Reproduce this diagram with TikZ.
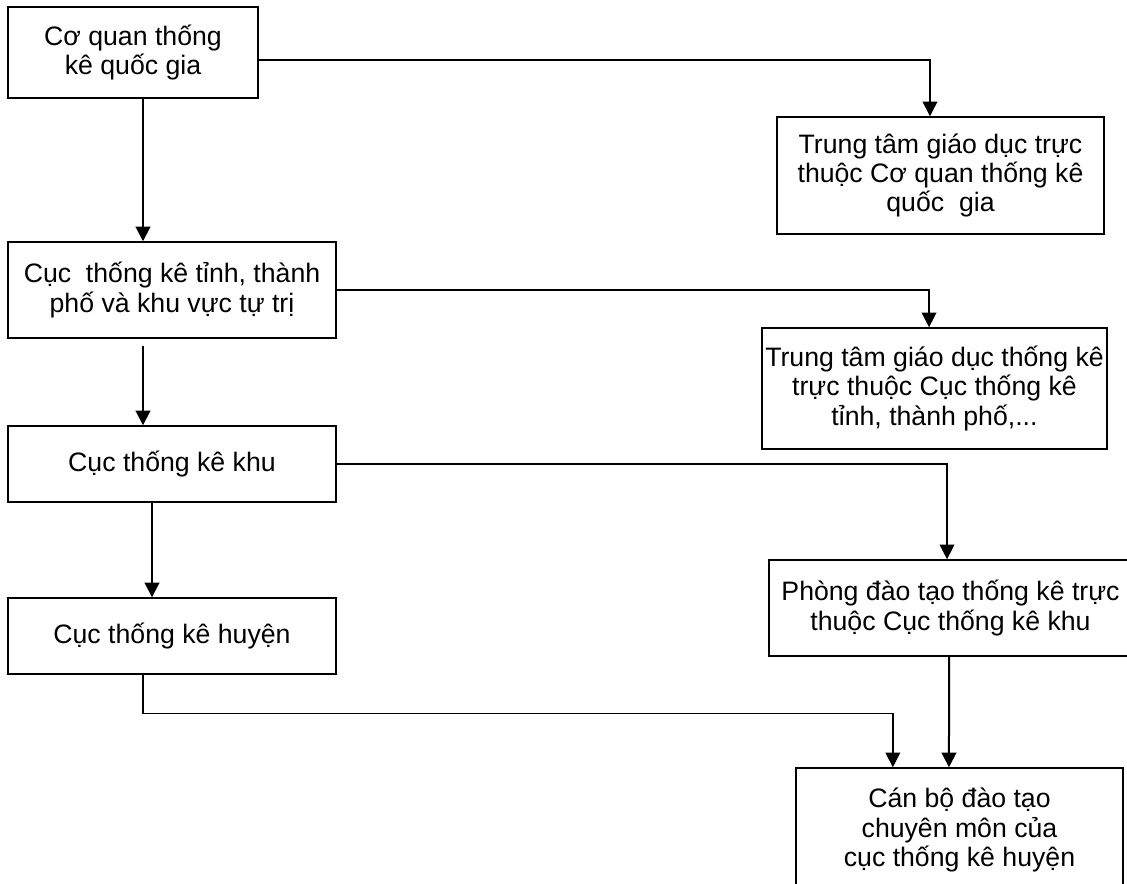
\documentclass[tikz,border=0pt]{standalone}
\usepackage{fontspec}
\setmainfont{Liberation Sans}
\usetikzlibrary{arrows.meta,positioning,calc}
\tikzset{
  >={Triangle[length=11pt,width=11pt]},
  box/.style={draw, line width=1.1pt, align=center, inner sep=2pt,
    font=\fontsize{20}{22}\selectfont},
  down/.style={->, line width=1.5pt},
  link/.style={->, line width=1.1pt},
}

\begin{document}
\begin{tikzpicture}[x=0.75pt, y=-0.75pt]
  \clip (0,0) rectangle (1127,883);

  % left column
  \node[box, minimum width=187.5pt, minimum height=68.25pt] (cq) at (133,52.5) {Cơ quan thống\\kê quốc gia};
  \node[box, minimum width=246pt, minimum height=72pt] (ctinh) at (172,290) {Cục~ thống kê tỉnh, thành\\phố và khu vực tự trị};
  \node[box, minimum width=246pt, minimum height=57pt] (ckhu) at (172,464) {Cục thống kê khu};
  \node[box, minimum width=246pt, minimum height=57pt] (chuyen) at (172,636) {Cục thống kê huyện};

  % right column
  \node[box, minimum width=245.25pt, minimum height=87.75pt] (tt1) at (940.5,175.5) {Trung tâm giáo dục trực\\thuộc Cơ quan thống kê\\quốc~ gia};
  \node[box, minimum width=258.75pt, minimum height=90.75pt] (tt2) at (934.5,388.5) {Trung tâm giáo dục thống kê\\trực thuộc Cục thống kê\\tỉnh, thành phố,...};
  \node[box, minimum width=272.25pt, minimum height=72pt] (phong) at (950.5,608) {Phòng đào tạo thống kê trực\\thuộc Cục thống kê khu};
  \node[box, minimum width=245.25pt, minimum height=93pt] (canbo) at (959.5,830) {Cán bộ đào tạo\\chuyên môn của\\cục thống kê huyện};

  \draw[down] ([xshift=7.5pt]cq.south) -- ([xshift=-21.75pt]ctinh.north);
  \draw[down] ([shift={(-21.75pt,-5.25pt)}]ctinh.south) -- ([xshift=-21.75pt]ckhu.north);
  \draw[down] ([xshift=-15pt]ckhu.south) -- ([xshift=-15pt]chuyen.north);

  \draw[link] ([yshift=-5.6pt]cq.east) -| ([xshift=-7.9pt]tt1.north);
  \draw[link] (ctinh.east) -| ([xshift=-4.1pt]tt2.north);
  \draw[link] (ckhu.east) -| ([xshift=-2.6pt]phong.north);

  \draw[link] ([xshift=-21.75pt]chuyen.south) -- ++(0,39) coordinate (hturn) -| ([xshift=-50pt]canbo.north);
  \draw[down] ([xshift=-1.1pt]phong.south) -- ([xshift=-7.9pt]canbo.north);
\end{tikzpicture}
\end{document}
